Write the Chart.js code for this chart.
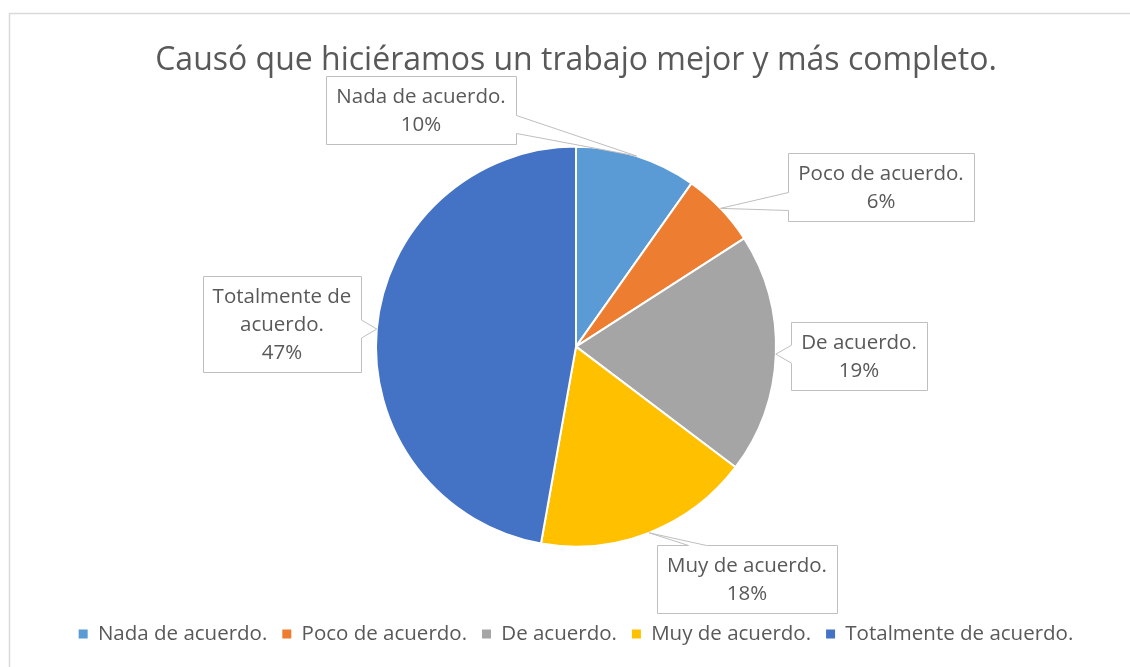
<!DOCTYPE html>
<html>
<head>
<meta charset="utf-8">
<script src="https://cdn.jsdelivr.net/npm/chart.js@4.4.0/dist/chart.umd.min.js"></script>
<style>
  html, body { margin: 0; padding: 0; background: #fff; }
  #wrap { width: 1130px; height: 667px; }
</style>
</head>
<body>
<div id="wrap"><canvas id="chartPie"></canvas></div>
<script>
const categorias = ['Nada de acuerdo.', 'Poco de acuerdo.', 'De acuerdo.', 'Muy de acuerdo.', 'Totalmente de acuerdo.'];
const valores = [9.8, 6.1, 19.4, 17.5, 47.2];
const colores = ['#5B9BD5', '#ED7D31', '#A5A5A5', '#FFC000', '#4472C4'];
const titulo = 'Causó que hiciéramos un trabajo mejor y más completo.';

// posicion de cada cuadro de etiqueta respecto al centro del pastel (px)
const posEtiquetas = [[-155, -237], [305, -160], [283, 9], [171, 232], [-294, -23]];

const fuente = '"Open Sans", "Liberation Sans", sans-serif';
const gris = '#595959';

function partir(ctx, texto, maxW) {
  const palabras = texto.split(' ');
  const lineas = [];
  let actual = '';
  palabras.forEach(p => {
    const prueba = actual ? actual + ' ' + p : p;
    if (actual && ctx.measureText(prueba).width > maxW) {
      lineas.push(actual);
      actual = p;
    } else {
      actual = prueba;
    }
  });
  if (actual) lineas.push(actual);
  return lineas;
}

// fondo y marco del grafico
const marco = {
  id: 'marco',
  beforeDraw(chart) {
    const ctx = chart.ctx;
    ctx.save();
    ctx.fillStyle = '#fff';
    ctx.fillRect(0, 0, chart.width, chart.height);
    ctx.strokeStyle = '#D9D9D9';
    ctx.lineWidth = 1.5;
    ctx.strokeRect(9.5, 13.5, chart.width + 20, chart.height + 20);
    ctx.restore();
  }
};

// etiquetas tipo globo con su cola hacia cada sector
const etiquetas = {
  id: 'etiquetas',
  afterDatasetsDraw(chart) {
    const ctx = chart.ctx;
    const meta = chart.getDatasetMeta(0);
    const total = valores.reduce((a, b) => a + b, 0);
    ctx.save();
    ctx.font = '20.5px ' + fuente;
    meta.data.forEach((arc, i) => {
      const p = arc.getProps(['x', 'y', 'startAngle', 'endAngle', 'outerRadius'], true);
      const mid = (p.startAngle + p.endAngle) / 2;
      const tip = { x: p.x + Math.cos(mid) * p.outerRadius, y: p.y + Math.sin(mid) * p.outerRadius };

      const lineas = partir(ctx, categorias[i], 190);
      lineas.push(Math.round(valores[i] / total * 100) + '%');
      const w = Math.max(...lineas.map(l => ctx.measureText(l).width)) + 20;
      const h = lineas.length * 28 + 12;
      const cx = p.x + posEtiquetas[i][0], cy = p.y + posEtiquetas[i][1];
      const L = Math.round(cx - w / 2) + 0.5, R = Math.round(cx + w / 2) + 0.5;
      const T = Math.round(cy - h / 2) + 0.5, B = Math.round(cy + h / 2) + 0.5;

      const dx = Math.max(L - tip.x, tip.x - R, 0);
      const dy = Math.max(T - tip.y, tip.y - B, 0);
      const m = 20, hw = 9;
      const clamp = (v, a, b) => Math.min(Math.max(v, a), b);
      let pts;
      if (dx >= dy) {
        const c = clamp(tip.y, T + m, B - m);
        if (tip.x > R) {
          pts = [[L, T], [R, T], [R, c - hw], [tip.x, tip.y], [R, c + hw], [R, B], [L, B]];
        } else {
          pts = [[L, T], [R, T], [R, B], [L, B], [L, c + hw], [tip.x, tip.y], [L, c - hw]];
        }
      } else {
        const c = clamp(tip.x, L + m + 20, R - m);
        if (tip.y < T) {
          pts = [[L, T], [c - hw, T], [tip.x, tip.y], [c + hw, T], [R, T], [R, B], [L, B]];
        } else {
          pts = [[L, T], [R, T], [R, B], [c + hw, B], [tip.x, tip.y], [c - hw, B], [L, B]];
        }
      }
      ctx.beginPath();
      pts.forEach((q, k) => k ? ctx.lineTo(q[0], q[1]) : ctx.moveTo(q[0], q[1]));
      ctx.closePath();
      ctx.fillStyle = '#fff';
      ctx.fill();
      ctx.strokeStyle = '#BFBFBF';
      ctx.lineWidth = 1;
      ctx.stroke();

      ctx.fillStyle = gris;
      ctx.textAlign = 'center';
      ctx.textBaseline = 'middle';
      lineas.forEach((l, k) => ctx.fillText(l, cx, T + 7 + 28 * (k + 0.5)));
    });
    ctx.restore();
  }
};

const canvas = document.getElementById('chartPie');
const chartPie = new Chart(canvas, {
  type: 'pie',
  data: {
    labels: categorias,
    datasets: [{
      data: valores,
      backgroundColor: colores,
      borderColor: '#fff',
      borderWidth: 2,
      radius: 200
    }]
  },
  options: {
    responsive: true,
    maintainAspectRatio: false,
    animation: false,
    layout: { padding: { left: 22, bottom: 12.75 } },
    plugins: {
      title: {
        display: true,
        text: titulo,
        color: gris,
        font: { family: fuente, size: 32, weight: 'normal', lineHeight: 1 },
        padding: { top: 45, bottom: 7.5 }
      },
      legend: {
        position: 'bottom',
        labels: {
          color: gris,
          font: { family: fuente, size: 20.5 },
          boxWidth: 9,
          boxHeight: 9,
          padding: 15,
          generateLabels: () => categorias.map((c, i) => ({
            text: c, fillStyle: colores[i], strokeStyle: colores[i],
            lineWidth: 0, hidden: false, index: i, fontColor: gris
          }))
        }
      },
      tooltip: { enabled: false }
    }
  },
  plugins: [marco, etiquetas]
});
</script>
</body>
</html>
